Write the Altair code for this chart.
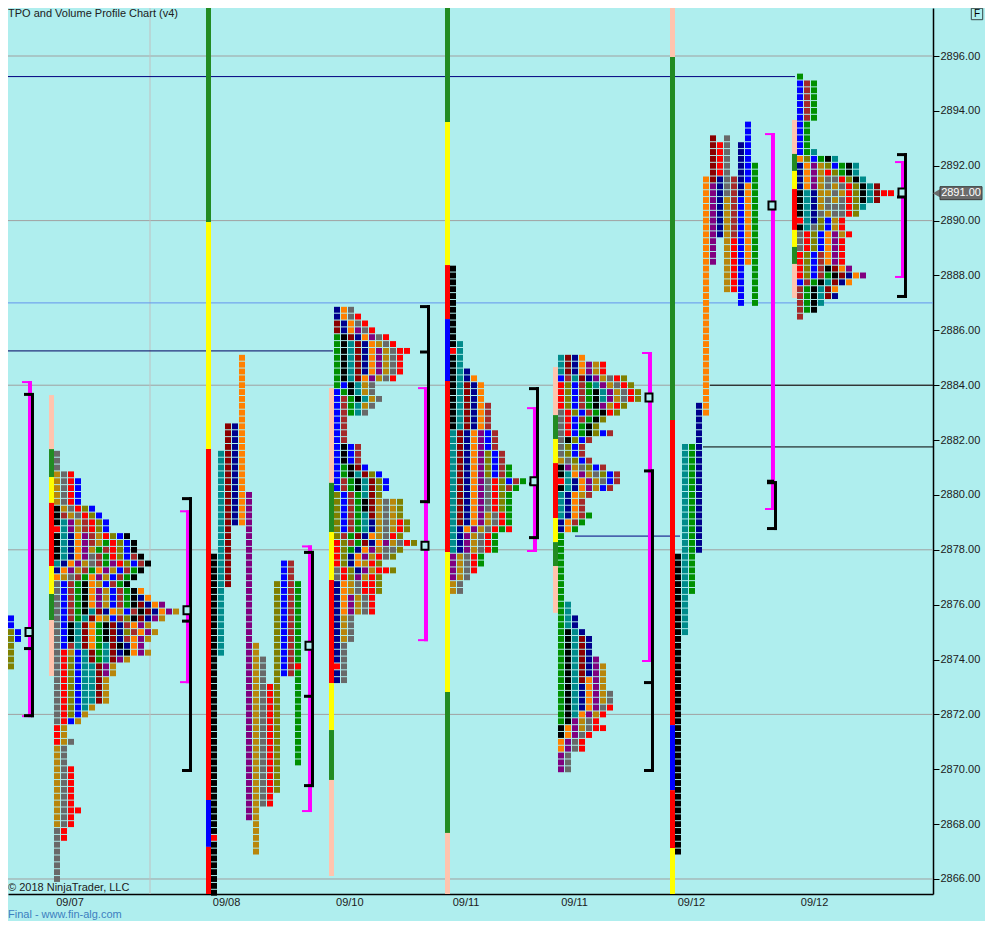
import altair as alt
import pandas as pd

BG = "#AFEEEE"

# colour codes of the TPO periods / hour strips
codes = ["k", "e", "b", "n", "r", "d", "w", "g", "t", "o", "p", "l", "y", "G", "Y", "s"]
colors = ["#000000", "#696969", "#0000FF", "#00008B", "#FF0000", "#8B0000", "#A52A2A",
          "#009000", "#008B8B", "#FF8000", "#800080", "#808000", "#B8860B",
          "#228B22", "#FFFF00", "#FFC4AE"]

# x = time slot (one TPO column per slot), y = price
PLOT_W, PLOT_H = 925, 886
PX_PER_PT = 27.433
X_MIN, X_MAX = 8 / 7, 933 / 7
Y_MAX = 2897.75
Y_MIN = Y_MAX - PLOT_H / PX_PER_PT
TICK = 0.25

# ---------------- packed profiles (rows top -> bottom) ----------------
A_start, A_top = 1 / 7, 2877.25
A_rows = ["w", "", "b", "b", "b", "b", "b", "lb", "lb", "rlb", "rlb", "rl", "rl", "rl", "rl", "l"]

B_start, B_top = 54 / 7, 2881.5
B_rows = ["e", "e", "e", "yer", "yerb", "yerb", "yerb", "yerb", "kyerlb", "kwyerlb",
          "ktpywrlb", "rtpywrlb", "ktnopwyrlbk", "ktnopwygrlbk", "ktnopygwrlbk", "ktnopewgrlbwk",
          "tnopyewgprlbwk", "nopywgopybwgk", "oyewgopybwgk", "ebwgkoybwgk",
          "ebwgkopybwgko", "ebwgkopybwgkno", "ebwgkopybwgkdnop", "ebwgktdnoybwkdnopy",
          "ebwgtdoybwlkdnpy", "ebktdogkdnwopy", "ebktdogkdnlwopy", "ebktdogkdnwopy",
          "ebwtdogtdknop", "erybtdgtdnkopy",
          "erlbtdgtdpy", "erlbttdpy", "erlbttdpy", "erlbttdy", "erlbttdy", "erlbttdy", "erlbttdy",
          "erlbty", "erlby", "erby",
          "ry", "ry", "rye", "ye", "ye", "ye", "yer", "yer", "yer", "yer",
          "yer", "yer", "yerr", "yer", "yer", "er", "er", "e", "e", "e",
          "e", "e", "e"]

D_start, D_top = 334 / 7, 2886.75
D_rows = ["noe", "noer", "dnoer", "dnoper", "gkdnoper", "gktdnoyer", "gktdnopyerr", "gktdnopyer",
          "gktdnopyer", "gktdnopyer", "gktdopyer", "gbktye", "bgktye", "bwgktye", "bwgtye", "bwgte",
          "bw", "bw", "bw", "bw", "bkbw", "bkbw", "bkbw", "bgkdb", "bgktdlb", "bwgktdlb", "bwgktdlb",
          "lbwgtdl", "lbwgkdyeyl", "lbwgkdyeyl", "lbwgtdyeyl", "lbwgtnyeyrl", "lbwgtnyeyrl",
          "lwgdnoyerl", "rlwgdnopyerl", "rlgnopyeel", "rlnopyrel", "rlnoyrl", "erlnpyrrl", "erlpyrl",
          "noyerrl", "noyerrl", "nopyer", "nopyer", "nopyer", "nye", "nye", "nye", "nye",
          "ne", "ne", "ne", "re", "ne", "ne"]

E_start, E_top = 450 / 7, 2888.25
E_rows = ["k"] * 11 + ["kt", "rt", "kt", "kt", "ktn", "ktno", "ktdno", "ktdno", "ktdno",
                       "ktdnow", "ktdnow", "ktdnow", "ktdnow", "tdnopbw", "tdnopbw", "tdnopbw",
                       "tdnoplbw", "tdnoplbw", "tdnoplbwg", "tdnoplbwg", "tdnoperlbwg", "tdnoperlwg",
                       "tdnoperlg", "tdnoperlg", "tdnoperlg", "tdnopyerg", "tdnopyerg", "tnopyergr",
                       "tnpyerg", "tnpyerg", "tnpyerg", "pyerg", "pyerg", "pyer", "pye", "ye", "ye"]

F_start, F_top = 558 / 7, 2885.0
F_rows = ["tdno", "tdnopyr", "tdnopyr", "bwtdnpyerl", "rlbwgtpyerl", "rlbwgktpyerl", "rlbwgktpyerl",
          "rlbwgkpyrl", "erlbwgkrl", "erbwgkl",
          "erbgkl", "erbgklbw", "eklbw", "elbw", "elbw", "yelbw", "kpyelbw", "ktopyelbw",
          "rtnopyebw", "ktnopybw",
          "tnoyw", "tnow", "tnow", "tnowg", "nowg", "nog", "g", "g", "g", "g",
          "g", "g", "g", "g", "g", "g", "gt", "gt", "gtn", "gtn",
          "gktn", "gktdn", "gktdn", "gktdn", "gktdnp", "gktdnpy", "gktdnpy", "gktdopy", "gktnopy", "gktnopye",
          "gktnopye", "gktnoper", "gktopyr", "gkpyer", "kopyerr", "koper", "oper", "oper", "pe", "pe",
          "pe"]

H_start, H_top = 797 / 7, 2895.25
H_rows = ["g", "bwg", "bwg", "bwg", "bwg", "bwg", "bwg", "bg", "bg", "bg",
          "bg", "bgt", "olbgkt", "nopylbgkt", "nopyrlgkt", "nopyeerlkt", "nopyeyerlktd",
          "ktnyyeyrlktdrr", "ktnyeyerlktd", "ktnyeeerlt",
          "ktneyeerl", "rtnlbyr", "ktelbyr", "erlbopyr", "erlbopr", "erlbopr", "rlbwopr", "rlbwopr",
          "rlbwkdop", "rlbwgkdnop",
          "bwgktdno", "wgktdo", "wgktdn", "wgkt", "wgk", "w"]

# ---------------- split profiles: one column per period ----------------
C_start = 211 / 7
C_col = [0, 0, 0, 1, 2, 3, 4, 5, 6, 7, 8, 9, 10, 11, 12, 12]
C_clr = ["k", "r", "k", "t", "d", "n", "o", "p", "y", "e", "r", "l", "b", "w", "g", "r"]
C_hi = [2877.75, 2867.5, 2867.25, 2881.5, 2882.5, 2882.5, 2885.0, 2880.0, 2874.5, 2874.0,
        2873.0, 2876.75, 2877.5, 2877.5, 2876.75, 2873.75]
C_lo = [2867.75, 2867.5, 2865.25, 2874.25, 2876.75, 2879.0, 2879.0, 2868.25, 2867.0, 2868.75,
        2868.75, 2869.25, 2873.5, 2873.5, 2870.25, 2873.75]

G_start = 675 / 7
G_col = [0, 1, 2, 3, 4, 5, 5, 6, 6, 7, 7, 8, 8, 9, 9, 10, 10, 11]
G_clr = ["k", "t", "g", "n", "o", "d", "p", "r", "n", "e", "y", "w", "r", "n", "b", "b", "o", "g"]
G_hi = [2877.75, 2881.75, 2881.75, 2883.25, 2891.5, 2893.0, 2891.25, 2892.75, 2891.5, 2893.0, 2890.75,
        2891.5, 2889.25, 2892.75, 2890.75, 2893.5, 2891.25, 2892.0]
G_lo = [2867.0, 2875.0, 2876.5, 2878.0, 2883.0, 2891.5, 2888.5, 2891.75, 2889.5, 2891.0, 2887.5,
        2889.5, 2887.5, 2891.0, 2887.0, 2891.5, 2888.5, 2887.0]

# ---------------- hour strips left of each profile ----------------
strip_start = [B_start, C_start, D_start, E_start, F_start, G_start, H_start]
strip_segs = [
    [("s", 2883.64, 2881.67), ("G", 2881.67, 2880.65), ("Y", 2880.65, 2879.71), ("r", 2879.71, 2877.41),
     ("Y", 2877.41, 2876.39), ("G", 2876.39, 2875.44), ("s", 2875.44, 2873.40)],
    [("G", Y_MAX, 2889.95), ("Y", 2889.95, 2881.67), ("r", 2881.67, 2868.88), ("b", 2868.88, 2867.17),
     ("r", 2867.17, Y_MIN)],
    [("s", 2883.90, 2880.44), ("G", 2880.44, 2878.65), ("Y", 2878.65, 2876.90), ("r", 2876.90, 2873.14),
     ("Y", 2873.14, 2871.43), ("G", 2871.43, 2869.61), ("s", 2869.61, 2866.11)],
    [("G", Y_MAX, 2893.59), ("Y", 2893.59, 2888.38), ("r", 2888.38, 2886.41), ("b", 2886.41, 2884.15),
     ("r", 2884.15, 2877.92), ("Y", 2877.92, 2872.82), ("G", 2872.82, 2867.68), ("s", 2867.68, Y_MIN)],
    [("s", 2884.66, 2882.91), ("G", 2882.91, 2882.04), ("Y", 2882.04, 2881.16), ("r", 2881.16, 2879.16),
     ("Y", 2879.16, 2878.28), ("G", 2878.28, 2877.41), ("s", 2877.41, 2875.70)],
    [("s", Y_MAX, 2895.96), ("G", 2895.96, 2882.73), ("r", 2882.73, 2871.61), ("b", 2871.61, 2869.24),
     ("r", 2869.24, 2867.13), ("Y", 2867.13, Y_MIN)],
    [("s", 2893.67, 2892.43), ("G", 2892.43, 2891.81), ("Y", 2891.81, 2891.15), ("r", 2891.15, 2889.66),
     ("Y", 2889.66, 2889.04), ("G", 2889.04, 2888.42), ("s", 2888.42, 2887.18)],
]

# ---------------- value area / range brackets ----------------
br_slot = [4.0, 26.57, 44.0, 60.57, 76.14, 92.57, 110.14, 128.71]
va_hi = [2884.15, 2879.44, 2878.16, 2883.93, 2883.2, 2885.21, 2893.19, 2892.17]
va_lo = [2871.9, 2873.14, 2868.44, 2874.67, 2877.92, 2873.91, 2879.45, 2887.91]
rng_hi = [2883.72, 2879.92, 2877.96, 2886.92, 2883.93, 2880.93, 2880.5, 2892.46]
rng_lo = [2871.9, 2869.9, 2869.35, 2879.7, 2878.39, 2869.9, 2878.72, 2887.18]
poc = [2875.0, 2875.8, 2874.5, 2878.15, 2880.5, 2883.55, 2890.55, 2891.02]
mid_tick = [2874.4, 2875.4, 2872.66, 2885.21, 2880.4, 2873.16, 2880.5, 2890.86]

# ---------------- horizontal level lines ----------------
lv_price = [2895.25, 2885.25, 2887.0, 2884.0, 2881.75, 2878.5]
lv_from = [X_MIN, X_MIN, X_MIN, 710 / 7, 703 / 7, 575 / 7]
lv_to = [795 / 7, 333 / 7, X_MAX, X_MAX, X_MAX, 680 / 7]
lv_color = ["#000080", "#000060", "#6495ED", "#000000", "#000000", "#000080"]

grid_prices = [2866, 2872, 2878, 2884, 2890, 2896]
vgrid_slots = [150 / 7]

x_label_pos = [9.93, 32.29, 49.9, 66.5, 82.0, 98.71, 116.29]
x_label_txt = ["09/07", "09/08", "09/10", "09/11", "09/11", "09/12", "09/12"]

last_price = 2891.00

# ---------------- build tables ----------------
SQ_W = 6 / 7
SQ_H = 5.9 / PX_PER_PT
PXY = 1 / PX_PER_PT  # price per pixel
PXX = 1 / 7          # slot per pixel


def cells_from_rows(start, top, rows):
    out = []
    for i, row in enumerate(rows):
        p = top - TICK * i
        for j, ch in enumerate(row):
            out.append({"x": start + j, "x2": start + j + SQ_W,
                        "y": p + SQ_H / 2, "y2": p - SQ_H / 2, "c": ch})
    return out


def cells_from_cols(start, cols, clrs, his, los):
    out = []
    for col, ch, hi, lo in zip(cols, clrs, his, los):
        n = int(round((hi - lo) / TICK))
        for i in range(n + 1):
            p = hi - TICK * i
            out.append({"x": start + col, "x2": start + col + SQ_W,
                        "y": p + SQ_H / 2, "y2": p - SQ_H / 2, "c": ch})
    return out


cells = []
cells += cells_from_rows(A_start, A_top, A_rows)
cells += cells_from_rows(B_start, B_top, B_rows)
cells += cells_from_rows(D_start, D_top, D_rows)
cells += cells_from_rows(E_start, E_top, E_rows)
cells += cells_from_rows(F_start, F_top, F_rows)
cells += cells_from_rows(H_start, H_top, H_rows)
cells += cells_from_cols(C_start, C_col, C_clr, C_hi, C_lo)
cells += cells_from_cols(G_start, G_col, G_clr, G_hi, G_lo)
cells_df = pd.DataFrame(cells)
cells_df = cells_df[cells_df["y2"] > Y_MIN - 0.2]

strips = []
for s, segs in zip(strip_start, strip_segs):
    for ch, hi, lo in segs:
        strips.append({"x": s - 5 * PXX, "x2": s, "y": hi, "y2": max(lo, Y_MIN), "c": ch})
strips_df = pd.DataFrame(strips)

mag, blk, pocs = [], [], []
for bx, vh, vl, rh, rl, pc, mt in zip(br_slot, va_hi, va_lo, rng_hi, rng_lo, poc, mid_tick):
    mag.append({"x": bx, "x2": bx + 4 * PXX, "y": vh, "y2": vl})
    mag.append({"x": bx - 6 * PXX, "x2": bx + 4 * PXX, "y": vh, "y2": vh - 2 * PXY})
    mag.append({"x": bx - 6 * PXX, "x2": bx + 4 * PXX, "y": vl + 2 * PXY, "y2": vl})
    blk.append({"x": bx + 3 * PXX, "x2": bx + 6 * PXX, "y": rh, "y2": rl})
    blk.append({"x": bx - 4 * PXX, "x2": bx + 6 * PXX, "y": rh, "y2": rh - 3 * PXY})
    blk.append({"x": bx - 4 * PXX, "x2": bx + 6 * PXX, "y": rl + 3 * PXY, "y2": rl})
    blk.append({"x": bx - 4 * PXX, "x2": bx + 3 * PXX, "y": mt + 1.5 * PXY, "y2": mt - 1.5 * PXY})
    pocs.append({"x": bx - 2.5 * PXX, "x2": bx + 4.5 * PXX, "y": pc + 4 * PXY, "y2": pc - 4 * PXY})
mag_df, blk_df, poc_df = pd.DataFrame(mag), pd.DataFrame(blk), pd.DataFrame(pocs)

lv_df = pd.DataFrame({"y": lv_price, "x": lv_from, "x2": lv_to, "col": lv_color})
grid_df = pd.DataFrame({"y": grid_prices})
vgrid_df = pd.DataFrame({"x": vgrid_slots})

# ---------------- encodings ----------------
label_expr = ""
for i in range(len(x_label_pos) - 1):
    mid = (x_label_pos[i] + x_label_pos[i + 1]) / 2
    label_expr += f"datum.value < {mid:.2f} ? '{x_label_txt[i]}' : "
label_expr += f"'{x_label_txt[-1]}'"

FONT = "Liberation Sans"
x_axis = alt.Axis(values=x_label_pos, labelExpr=label_expr, ticks=False, grid=False, title=None,
                  domainColor="#000000", domainWidth=1.5, labelFontSize=11, labelFont=FONT,
                  labelColor="#202020", labelPadding=2, labelOverlap=False, labelFlush=False,
                  labelBound=False)
y_axis = alt.Axis(orient="right", values=list(range(2866, 2897, 2)), format=".2f", grid=False,
                  title=None, domainColor="#000000", domainWidth=1.5, tickColor="#000000",
                  tickSize=6, labelFontSize=11, labelFont=FONT, labelColor="#202020",
                  labelPadding=1, labelOverlap=False, labelFlush=False, labelBound=False)

xs = alt.Scale(domain=[X_MIN, X_MAX], nice=False, zero=False)
ys = alt.Scale(domain=[Y_MIN, Y_MAX], nice=False, zero=False)
cs = alt.Scale(domain=codes, range=colors)


def X(f="x"):
    return alt.X(f"{f}:Q", scale=xs, axis=x_axis)


def Y(f="y"):
    return alt.Y(f"{f}:Q", scale=ys, axis=y_axis)


grid = alt.Chart(grid_df).mark_rule(color="#A0A0A0", strokeWidth=1).encode(y=Y())
vgrid = alt.Chart(vgrid_df).mark_rule(color="#C0C0C0", strokeWidth=1).encode(x=X())
levels = alt.Chart(lv_df).mark_rule(strokeWidth=1).encode(
    x=X(), x2="x2", y=Y(), color=alt.Color("col:N", scale=None))
strip_layer = alt.Chart(strips_df).mark_rect().encode(
    x=X(), x2="x2", y=Y(), y2="y2", color=alt.Color("c:N", scale=cs, legend=None))
cell_layer = alt.Chart(cells_df).mark_rect().encode(
    x=X(), x2="x2", y=Y(), y2="y2", color=alt.Color("c:N", scale=cs, legend=None))
mag_layer = alt.Chart(mag_df).mark_rect(color="#FF00FF").encode(x=X(), x2="x2", y=Y(), y2="y2")
blk_layer = alt.Chart(blk_df).mark_rect(color="#000000").encode(x=X(), x2="x2", y=Y(), y2="y2")
poc_layer = alt.Chart(poc_df).mark_rect(fill=BG, stroke="#000000", strokeWidth=2).encode(
    x=X(), x2="x2", y=Y(), y2="y2")

# last price marker on the axis
lp_df = pd.DataFrame({"x": [940 / 7], "x2": [982 / 7], "y": [last_price + 6.5 * PXY],
                      "y2": [last_price - 6.5 * PXY], "xt": [961 / 7], "xa": [937 / 7],
                      "p": [last_price], "label": [f"{last_price:.2f}"]})
lp_box = alt.Chart(lp_df).mark_rect(color="#6B6B6B", stroke="#3A3A3A", strokeWidth=1).encode(
    x=X(), x2="x2", y=Y(), y2="y2")
lp_arrow = alt.Chart(lp_df).mark_point(shape="triangle-left", filled=True, color="#6B6B6B",
                                       size=90, opacity=1).encode(x=X("xa"), y=Y("p"))
lp_text = alt.Chart(lp_df).mark_text(color="#FFFFFF", fontSize=11, font=FONT, align="center",
                                     baseline="middle").encode(x=X("xt"), y=Y("p"), text="label:N")

ann = pd.DataFrame({"t": ["TPO and Volume Profile Chart (v4)", "© 2018 NinjaTrader, LLC"],
                    "px": [0, 0], "py": [9, PLOT_H - 3]})
title_layer = alt.Chart(ann).mark_text(align="left", baseline="alphabetic", fontSize=11, font=FONT,
                                       color="#202020").encode(
    x=alt.X("px:Q", scale=None), y=alt.Y("py:Q", scale=None), text="t:N")
foot = pd.DataFrame({"t": ["Final - www.fin-alg.com"], "px": [0], "py": [PLOT_H + 24]})
foot_layer = alt.Chart(foot).mark_text(align="left", baseline="alphabetic", fontSize=11, font=FONT,
                                       color="#3C7FC0").encode(
    x=alt.X("px:Q", scale=None), y=alt.Y("py:Q", scale=None), text="t:N")
fbox = pd.DataFrame({"t": ["F"], "px": [969], "py": [6]})
fbox_rect = alt.Chart(fbox).mark_square(size=130, filled=False, color="#000000", strokeWidth=1).encode(
    x=alt.X("px:Q", scale=None), y=alt.Y("py:Q", scale=None))
fbox_text = alt.Chart(fbox).mark_text(fontSize=10, font=FONT, color="#000000", baseline="middle").encode(
    x=alt.X("px:Q", scale=None), y=alt.Y("py:Q", scale=None), text="t:N")

chart = alt.layer(
    grid, vgrid, levels, strip_layer, cell_layer, mag_layer, blk_layer, poc_layer,
    lp_arrow, lp_box, lp_text, title_layer, foot_layer, fbox_rect, fbox_text
).resolve_scale(color="independent").properties(
    width=PLOT_W, height=PLOT_H,
    autosize=alt.AutoSizeParams(type="none"),
    padding={"left": 0, "top": 0, "right": 52, "bottom": 27},
    background=BG,
).configure_view(stroke=None)

chart.save("out.html", embed_options={"renderer": "svg", "actions": False})
